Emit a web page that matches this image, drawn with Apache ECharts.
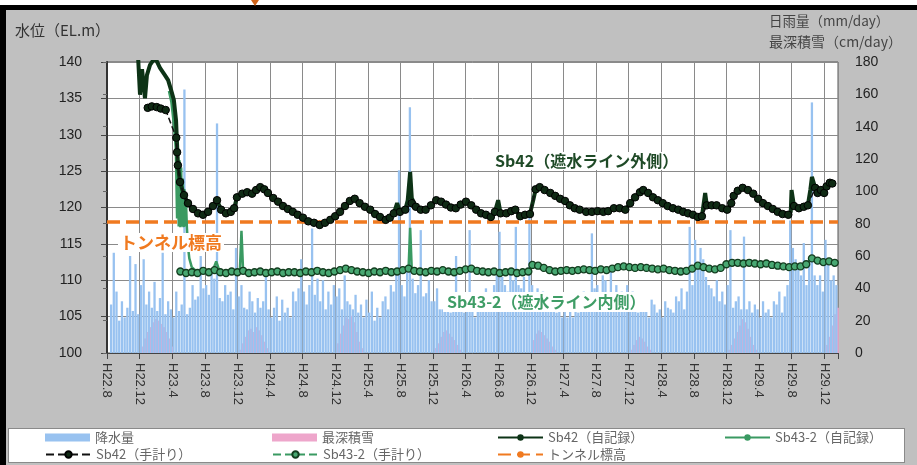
<!DOCTYPE html>
<html>
<head>
<meta charset="utf-8">
<script src="https://cdn.jsdelivr.net/npm/echarts@6/dist/echarts.min.js"></script>
<style>
html, body { margin: 0; padding: 0; background: #fff; }
#frame { position: absolute; left: 0; top: 5px; width: 917px; height: 460px; box-sizing: border-box;
  background: #c0c0c0; border-left: 6px solid #000; border-top: 5px solid #000; }
#legendBox { position: absolute; left: 8px; top: 428px; width: 897px; height: 35px; box-sizing: border-box;
  background: #fff; border: 1px solid #8a8a8a; }
#arrow { position: absolute; left: 251px; top: 0; width: 0; height: 0;
  border-left: 4px solid transparent; border-right: 4px solid transparent; border-top: 6px solid #d0641a; }
#chart { position: absolute; left: 0; top: 0; width: 917px; height: 465px; }
</style>
</head>
<body>
<div id="frame"></div>
<div id="legendBox"></div>
<div id="arrow"></div>
<div id="chart"></div>
<script>
// Horizontal axis: months counted from H22.8 (Aug 2010)
const X_MAX = 89.7;
const START_MONTH = 8;   // August
const START_YEAR_H = 22; // Heisei 22
const tunnelLevel = 118;

// Daily rainfall peaks (mm/day), three values per month (early / mid / late)
const rainH22 = [0, 30, 62, 38, 20, 32, 22, 28, 60, 26, 55, 24, 42, 58, 30];
const rainH23 = [38, 28, 44, 26, 34, 62, 24, 32, 27, 22, 38, 26, 30, 163, 24, 28, 42, 33,
                 35, 60, 40, 42, 36, 52, 46, 142, 34, 32, 42, 36, 38, 27, 65, 35, 42, 28];
const rainH24 = [27, 38, 32, 25, 34, 28, 32, 48, 27, 22, 28, 35, 20, 33, 25, 28, 22, 38,
                 32, 40, 58, 38, 30, 42, 77, 36, 46, 32, 45, 27, 38, 30, 42, 35, 40, 27];
const rainH25 = [48, 32, 30, 27, 36, 25, 30, 22, 33, 25, 38, 20, 28, 22, 32, 35, 27, 42,
                 38, 52, 113, 42, 35, 50, 152, 46, 37, 42, 76, 35, 37, 45, 32, 32, 40, 27];
const rainH26 = [27, 35, 32, 25, 30, 60, 32, 27, 25, 28, 76, 32, 22, 35, 27, 32, 40, 37,
                 35, 42, 48, 75, 47, 42, 38, 52, 45, 78, 42, 40, 47, 37, 88, 42, 35, 40];
const rainH27 = [32, 38, 27, 28, 32, 36, 25, 30, 22, 27, 22, 33, 22, 28, 25, 30, 38, 32,
                 35, 74, 40, 42, 32, 48, 45, 37, 52, 32, 42, 35, 38, 30, 42, 32, 38, 27];
const rainH28 = [25, 32, 30, 27, 22, 33, 30, 25, 27, 22, 32, 28, 27, 25, 35, 32, 40, 27,
                 38, 78, 42, 70, 52, 65, 58, 47, 42, 40, 35, 45, 32, 38, 30, 42, 76, 28];
const rainH29 = [32, 35, 27, 72, 27, 32, 25, 30, 27, 22, 32, 25, 27, 22, 32, 30, 38, 25,
                 35, 42, 82, 65, 58, 52, 48, 68, 42, 58, 155, 48, 42, 48, 38, 70, 58, 45];
const rainH30 = [48, 42];

// Deepest snow cover (cm), three values per month from December of each winter
const snowH22 = [4, 9, 13, 16, 19, 21, 20, 18, 16, 13, 9, 4];
const snowH23 = [2, 6, 10, 14, 15, 13, 16, 14, 11, 7, 3, 0];
const snowH24 = [6, 12, 17, 22, 21, 23, 19, 13, 7, 3, 0, 0];
const snowH25 = [3, 6, 10, 13, 14, 12, 10, 8, 5, 2, 0, 0];
const snowH26 = [8, 12, 14, 13, 11, 9, 7, 4, 2, 0, 0, 0];
const snowH27 = [2, 5, 8, 10, 9, 7, 4, 2, 0, 0, 0, 0];
const snowH28 = [2, 5, 9, 13, 17, 21, 19, 15, 10, 5, 2, 0];
const snowH29 = [5, 10, 17, 24, 28];
const snowStarts = [4, 16, 28, 40, 52, 64, 76, 88]; // December of each winter

// Sb42 groundwater level, automatic logger [month, EL.m]
const sb42Auto = [
  [3.8,141],[4.05,135.5],[4.3,139],[4.66,135],[4.9,138.2],[5.28,139.6],[5.9,140.6],[6.5,139.2],[7.1,138.2],
  [7.5,137.5],[7.85,136.2],[8.2,134.8],[8.47,132],[8.6,128.6],[8.7,125.8],[8.96,123.5],[9.45,121.7],[9.94,120.6],
  [10.55,119.8],[11.17,119.2],[11.78,119],[12.4,119.4],[13.0,120.2],[13.5,121],[14.0,119.7],[14.6,119.2],[15.2,119.4],
  [15.6,119.9],[15.95,121.4],[16.6,121.9],[17.2,122.1],[17.8,121.9],[18.3,122.4],[18.8,122.8],[19.3,122.5],[19.75,122],
  [20.4,121.3],[21.0,120.8],[21.6,120.2],[22.2,119.8],[22.8,119.4],[23.4,119],[24.05,118.6],[24.7,118.1],[25.4,117.9],
  [26.1,117.6],[26.75,117.9],[27.4,118.3],[28.0,118.8],[28.6,119.4],[29.2,120.2],[29.8,120.9],[30.4,121.2],[31.0,120.6],
  [31.65,120.1],[32.3,119.7],[32.9,119.1],[33.5,118.7],[34.2,118.3],[34.7,118.6],[35.2,119.2],[35.6,120.6],[35.95,119.4],
  [36.6,119.7],[36.9,121],[37.2,124.9],[37.4,121.3],[37.9,120.1],[38.5,119.7],[39.1,119.7],[39.75,120.3],[40.4,121],
  [41.0,120.8],[41.6,120.4],[42.2,120],[42.8,119.9],[43.4,120.4],[44.05,120.8],[44.7,120.3],[45.3,119.7],[45.9,119.2],
  [46.5,119],[47.1,118.7],[47.6,119.4],[48.0,121],[48.3,119.2],[49.0,119.2],[49.6,119.5],[50.1,119.7],[50.7,118.8],
  [51.3,119],[51.9,119.1],[52.3,121],[52.6,122.5],[53.1,122.8],[53.7,122.4],[54.4,122],[55.0,121.6],[55.6,121.2],
  [56.2,120.9],[56.8,120.3],[57.4,119.9],[58.0,119.7],[58.8,119.4],[59.5,119.4],[60.2,119.5],[60.9,119.4],[61.5,119.5],
  [62.2,119.9],[62.9,119.9],[63.6,119.7],[64.2,120.6],[64.8,121.4],[65.4,122.1],[65.8,122.4],[66.4,122],[67.0,121.4],
  [67.6,121],[68.2,120.6],[68.8,120.2],[69.45,119.9],[70.1,119.7],[70.7,119.4],[71.3,119.2],[71.9,119],[72.5,118.7],
  [73.0,118.8],[73.4,122],[73.6,120.3],[74.2,120.3],[74.8,120.3],[75.5,119.9],[76.1,119.7],[76.6,120.6],[76.9,121.6],
  [77.4,122.3],[78.0,122.7],[78.65,122.4],[79.3,121.9],[79.9,121.2],[80.5,120.6],[81.1,120.2],[81.7,119.8],[82.3,119.4],
  [82.9,119.1],[83.6,119],[83.9,119.4],[84.0,122.4],[84.3,120.2],[84.9,119.9],[85.5,120.1],[86.0,120.3],[86.3,122.4],
  [86.5,124.2],[86.9,122.7],[87.2,122],[87.6,122.4],[88.0,122],[88.3,122.9],[88.7,123.4],[89.0,123.3]
];

// Sb42 manual readings [month, EL.m]
const sb42Manual = [
  [5.0,133.7],[5.5,133.9],[6.1,133.8],[6.6,133.6],[7.2,133.4],[8.5,129.6],[8.6,127.6],[8.7,125.8],[8.96,123.5],
  [9.45,121.7],[9.94,120.6],[10.55,119.8],[11.17,119.2],[11.78,119],[12.4,119.4],[13.0,120.2],[13.5,121],[14.0,119.7],
  [14.6,119.2],[15.2,119.4],[15.6,119.9],[15.95,121.4],[16.6,121.9],[17.2,122.1],[17.8,121.9],[18.3,122.4],[18.8,122.8],
  [19.3,122.5],[19.75,122],[20.4,121.3],[21.0,120.8],[21.6,120.2],[22.2,119.8],[22.8,119.4],[23.4,119],[24.05,118.6],
  [24.7,118.1],[25.4,117.9],[26.1,117.6],[26.75,117.9],[27.4,118.3],[28.0,118.8],[28.6,119.4],[29.2,120.2],[29.8,120.9],
  [30.4,121.2],[31.0,120.6],[31.65,120.1],[32.3,119.7],[32.9,119.1],[33.5,118.7],[34.2,118.3],[34.7,118.6],[35.2,119.2],
  [35.95,119.4],[36.6,119.7],[37.4,120.6],[37.9,120.1],[38.5,119.7],[39.1,119.7],[39.75,120.3],[40.4,121],[41.0,120.8],
  [41.6,120.4],[42.2,120],[42.8,119.9],[43.4,120.4],[44.05,120.8],[44.7,120.3],[45.3,119.7],[45.9,119.2],[46.5,119],
  [47.1,118.7],[47.6,119.4],[48.3,119.2],[49.0,119.2],[49.6,119.5],[50.1,119.7],[50.7,118.8],[51.3,119],[51.9,119.1],
  [52.6,122.5],[53.1,122.8],[53.7,122.4],[54.4,122],[55.0,121.6],[55.6,121.2],[56.2,120.9],[56.8,120.3],[57.4,119.9],
  [58.0,119.7],[58.8,119.4],[59.5,119.4],[60.2,119.5],[60.9,119.4],[61.5,119.5],[62.2,119.9],[62.9,119.9],[63.6,119.7],
  [64.2,120.6],[64.8,121.4],[65.4,122.1],[65.8,122.4],[66.4,122],[67.0,121.4],[67.6,121],[68.2,120.6],[68.8,120.2],
  [69.45,119.9],[70.1,119.7],[70.7,119.4],[71.3,119.2],[71.9,119],[72.5,118.7],[73.0,118.8],[73.6,120.3],[74.2,120.3],
  [74.8,120.3],[75.5,119.9],[76.1,119.7],[76.6,120.6],[76.9,121.6],[77.4,122.3],[78.0,122.7],[78.65,122.4],[79.3,121.9],
  [79.9,121.2],[80.5,120.6],[81.1,120.2],[81.7,119.8],[82.3,119.4],[82.9,119.1],[83.6,119],[84.3,120.2],[84.9,119.9],
  [85.5,120.1],[86.0,120.3],[86.9,122.7],[87.2,122],[87.6,122.4],[88.0,122],[88.3,122.9],[88.7,123.4],[89.0,123.3]
];

// Sb43-2 groundwater level, automatic logger [month, EL.m]
const sb43Auto = [
  [7.6,136.0],[7.9,134.5],[8.2,131.5],[8.45,128.0],[8.6,118.5],[8.7,127.0],[8.8,117.4],[8.9,126.5],[9.0,117.3],
  [9.1,125.5],[9.2,117.4],[9.3,124.0],[9.4,117.3],[9.5,122.5],[9.6,117.4],[9.7,120.5],[9.8,117.3],[9.95,114.5],
  [10.1,113.0],[10.4,111.8],[11.0,111.2],[13.0,111.4],[13.4,112.6],[13.8,111.3],[16.3,111.2],[16.5,116.8],[16.7,111.3],
  [28.0,111.2],[29.3,111.6],[30.7,111.2],[36.3,111.4],[37.0,111.5],[37.2,117.2],[37.4,111.4],[43.3,111.3],[44.7,111.6],
  [46.8,111.1],[51.7,111.2],[52.2,112.1],[53.6,111.7],[55.0,111.2],[58.5,111.5],[61.3,111.4],[62.7,111.8],[64.8,111.7],
  [67.6,111.5],[70.4,111.2],[72.5,112.0],[74.6,111.5],[76.7,112.4],[80.2,112.2],[83.7,111.8],[85.8,112.2],[86.5,113.0],
  [87.9,112.5],[89.3,112.4]
];

// Sb43-2 manual readings [month, EL.m]
const sb43Manual = [
  [9.0,111.2],[9.7,111.0],[10.4,111.1],[11.1,111.0],[11.8,111.3],[12.5,111.1],[13.2,111.4],[13.9,111.1],[14.6,111.0],
  [15.3,111.2],[16.0,111.1],[16.7,111.3],[17.4,111.0],[18.1,111.1],[18.8,111.2],[19.5,111.0],[20.2,111.1],[20.9,111.2],
  [21.6,111.0],[22.3,111.1],[23.0,111.1],[23.7,111.0],[24.4,111.2],[25.1,111.1],[25.8,111.3],[26.5,111.1],[27.2,111.0],
  [27.9,111.2],[28.6,111.4],[29.3,111.6],[30.0,111.4],[30.7,111.2],[31.4,111.1],[32.1,111.0],[32.8,111.2],[33.5,111.1],
  [34.2,111.3],[34.9,111.1],[35.6,111.2],[36.3,111.4],[37.0,111.6],[37.7,111.3],[38.4,111.2],[39.1,111.1],[39.8,111.3],
  [40.5,111.2],[41.2,111.4],[41.9,111.2],[42.6,111.1],[43.3,111.3],[44.0,111.5],[44.7,111.6],[45.4,111.3],[46.1,111.2],
  [46.8,111.1],[47.5,111.2],[48.2,111.0],[48.9,111.1],[49.6,111.2],[50.3,111.0],[51.0,111.1],[51.7,111.2],[52.2,112.1],
  [52.9,112.0],[53.6,111.7],[54.3,111.4],[55.0,111.2],[55.7,111.3],[56.4,111.4],[57.1,111.3],[57.8,111.4],[58.5,111.5],
  [59.2,111.4],[59.9,111.3],[60.6,111.5],[61.3,111.4],[62.0,111.6],[62.7,111.8],[63.4,111.9],[64.1,111.8],[64.8,111.7],
  [65.5,111.8],[66.2,111.7],[66.9,111.6],[67.6,111.5],[68.3,111.6],[69.0,111.4],[69.7,111.3],[70.4,111.2],[71.1,111.3],
  [71.8,111.6],[72.5,112.0],[73.2,111.8],[73.9,111.6],[74.6,111.5],[75.3,111.7],[76.0,112.2],[76.7,112.4],[77.4,112.4],
  [78.1,112.3],[78.8,112.4],[79.5,112.3],[80.2,112.2],[80.9,112.3],[81.6,112.1],[82.3,112.0],[83.0,111.9],[83.7,111.8],
  [84.4,111.9],[85.1,111.9],[85.8,112.2],[86.5,113.0],[87.2,112.7],[87.9,112.5],[88.6,112.6],[89.3,112.4]
];

const FONT = "'Liberation Sans', 'Noto Sans CJK JP', sans-serif";
const JP = "'Noto Sans CJK JP', 'Liberation Sans', sans-serif";

// Rain bars sit mid-dekad; snow bars sit on dekad boundaries so both stay visible
const rainAll = [].concat(rainH22, rainH23, rainH24, rainH25, rainH26, rainH27, rainH28, rainH29, rainH30);
const rainData = rainAll.map((v, i) => [i / 3 + 1 / 6, v]);
const snowData = [snowH22, snowH23, snowH24, snowH25, snowH26, snowH27, snowH28, snowH29]
  .flatMap((arr, w) => arr.map((v, i) => [snowStarts[w] + i / 3 + 1 / 3, v]));

function monthLabel(v) {
  if (Math.abs(v % 4) > 1e-6 || v > 88.01) return '';
  const t = START_MONTH - 1 + v;
  return 'H' + (START_YEAR_H + Math.floor(t / 12)) + '.' + (t % 12 + 1);
}

const legendText = { fontSize: 13, color: '#666', fontFamily: JP };
function legendAt(name, left, top, icon) {
  return {
    data: [icon ? { name: name, icon: icon } : name],
    left: left, top: top, padding: 0, itemWidth: 45, itemHeight: 8,
    selectedMode: false, textStyle: legendText
  };
}

const chart = echarts.init(document.getElementById('chart'), null, { renderer: 'canvas' });
chart.setOption({
  animation: false,
  backgroundColor: 'transparent',
  textStyle: { fontFamily: FONT },
  grid: { left: 107, right: 79, top: 62, bottom: 112, show: true, backgroundColor: '#fff',
          borderColor: '#555', borderWidth: 1 },
  legend: [
    legendAt('降水量', 45, 431, 'rect'),
    legendAt('最深積雪', 272, 431, 'rect'),
    legendAt('Sb42（自記録）', 497, 431),
    legendAt('Sb43-2（自記録）', 724, 431),
    legendAt('Sb42（手計り）', 45, 448),
    legendAt('Sb43-2（手計り）', 272, 448),
    legendAt('トンネル標高', 497, 448)
  ],
  xAxis: [{
    type: 'value', min: 0, max: X_MAX, interval: 4,
    axisLine: { show: true, lineStyle: { color: '#444', width: 1 } },
    axisTick: { show: true, length: 6, lineStyle: { color: '#444' } },
    splitLine: { show: true, lineStyle: { color: '#8a8a8a', width: 1 } },
    axisLabel: { rotate: -90, margin: 10, fontSize: 13, color: '#333', formatter: monthLabel }
  }, {
    type: 'value', min: 0, max: X_MAX, show: false
  }],
  yAxis: [{
    type: 'value', min: 100, max: 140, interval: 5, position: 'left',
    axisLine: { show: true, lineStyle: { color: '#444' } },
    axisTick: { show: true, length: 6, lineStyle: { color: '#444' } },
    splitLine: { show: true, lineStyle: { color: '#8a8a8a', width: 1 } },
    axisLabel: { fontSize: 14, color: '#222', margin: 25 }
  }, {
    type: 'value', min: 0, max: 180, interval: 20, position: 'right',
    axisLine: { show: true, lineStyle: { color: '#333', width: 2 } },
    axisTick: { show: true, inside: true, length: 4, lineStyle: { color: '#666' } },
    splitLine: { show: false },
    axisLabel: { fontSize: 14, color: '#222', margin: 17 }
  }],
  graphic: [
    { type: 'text', left: 15, top: 23, style: { text: '水位（EL.m）', font: '15px ' + JP, fill: '#333' } },
    { type: 'text', left: 769, top: 14, style: { text: '日雨量（mm/day）', font: '13.5px ' + JP, fill: '#444' } },
    { type: 'text', left: 769, top: 35, style: { text: '最深積雪（cm/day）', font: '14px ' + JP, fill: '#444' } },
    { type: 'text', left: 493, top: 152, z: 100, style: { text: 'Sb42（遮水ライン外側）', font: 'bold 16px ' + JP,
      fill: '#1f4a27', backgroundColor: '#fff', padding: [1, 2] } },
    { type: 'text', left: 443, top: 292, z: 100, style: { text: 'Sb43-2（遮水ライン内側）', font: 'bold 16px ' + JP,
      fill: '#3f9d66', backgroundColor: '#fff', padding: [2, 4] } },
    { type: 'text', left: 118, top: 233, z: 100, style: { text: 'トンネル標高', font: 'bold 17px ' + JP,
      fill: '#f07a20', backgroundColor: '#fff', padding: [1, 2] } }
  ],
  series: [
    { name: '最深積雪', type: 'bar', xAxisIndex: 1, yAxisIndex: 1, barWidth: 2.2, z: 1,
      itemStyle: { color: '#eea6cb' }, data: snowData },
    { name: '降水量', type: 'bar', xAxisIndex: 0, yAxisIndex: 1, barWidth: 2.3, z: 2,
      itemStyle: { color: '#98c2f0' }, data: rainData },
    { name: 'トンネル標高', type: 'line', yAxisIndex: 0, symbol: 'none', z: 3,
      lineStyle: { color: '#f07a20', width: 3.5, type: [13, 6] }, itemStyle: { color: '#f07a20' },
      data: [[0, tunnelLevel], [X_MAX, tunnelLevel]] },
    { name: 'Sb43-2（自記録）', type: 'line', yAxisIndex: 0, symbol: 'none', z: 4,
      lineStyle: { color: '#3a9a62', width: 2.5 }, itemStyle: { color: '#3a9a62' }, data: sb43Auto },
    { name: 'Sb42（自記録）', type: 'line', yAxisIndex: 0, symbol: 'none', z: 5,
      lineStyle: { color: '#0d3316', width: 4 }, itemStyle: { color: '#0d3316' }, data: sb42Auto },
    { name: 'Sb43-2（手計り）', type: 'line', yAxisIndex: 0, symbol: 'circle', symbolSize: 7, z: 6,
      lineStyle: { color: '#3a9a62', width: 1.5, type: 'dashed' },
      itemStyle: { color: '#48a872', borderColor: '#133d1f', borderWidth: 1.3 }, data: sb43Manual },
    { name: 'Sb42（手計り）', type: 'line', yAxisIndex: 0, symbol: 'circle', symbolSize: 7.5, z: 7,
      lineStyle: { color: '#111', width: 1.5, type: 'dashed' },
      itemStyle: { color: '#0f2a14', borderColor: '#000', borderWidth: 1 }, data: sb42Manual }
  ]
});
</script>
</body>
</html>
